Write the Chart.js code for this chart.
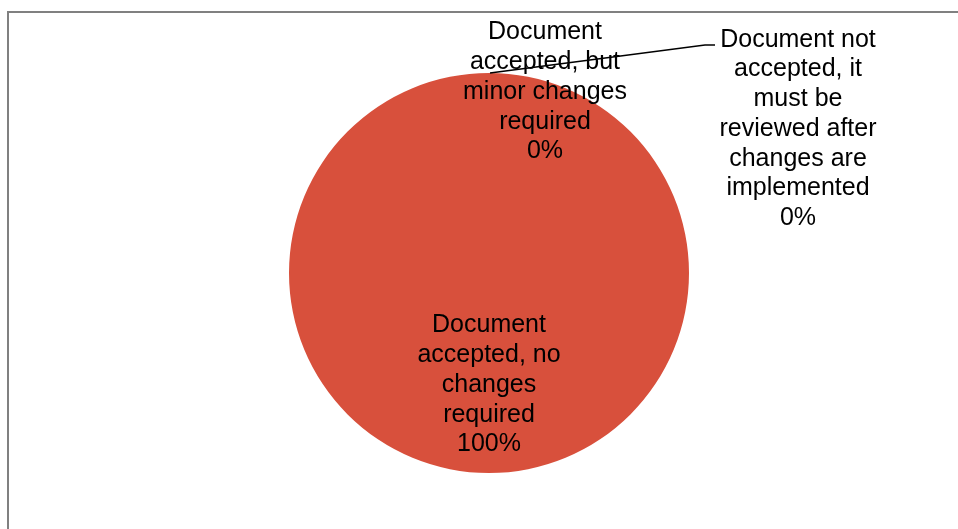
<!DOCTYPE html>
<html>
<head>
<meta charset="utf-8">
<script src="https://cdn.jsdelivr.net/npm/chart.js@4/dist/chart.umd.min.js"></script>
<style>
  html, body { margin: 0; padding: 0; background: #fff; }
  canvas { display: block; }
</style>
</head>
<body>
<canvas id="grafico" width="958" height="529"></canvas>
<script>
var categorie = [
  'Document accepted, no changes required',
  'Document accepted, but minor changes required',
  'Document not accepted, it must be reviewed after changes are implemented'
];
var valori = [100, 0, 0];
var percentuali = ['100%', '0%', '0%'];
var colori = ['#D8503C', '#4F81BD', '#9BBB59'];

// spezza il testo in righe
function aCapo(ctx, testo, larghezza) {
  var parole = testo.split(' ');
  var righe = [];
  var riga = '';
  for (var i = 0; i < parole.length; i++) {
    var prova = riga ? riga + ' ' + parole[i] : parole[i];
    if (riga && ctx.measureText(prova).width > larghezza) {
      righe.push(riga);
      riga = parole[i];
    } else {
      riga = prova;
    }
  }
  righe.push(riga);
  return righe;
}

var etichette = {
  id: 'etichette',
  beforeDraw: function (chart) {
    var ctx = chart.ctx;
    ctx.save();
    ctx.strokeStyle = '#808080';
    ctx.lineWidth = 2;
    ctx.strokeRect(8, 12, 1100, 700);
    ctx.restore();
  },
  afterDraw: function (chart) {
    var ctx = chart.ctx;
    var arco = chart.getDatasetMeta(0).data[0];
    var cx = arco.x, cy = arco.y, r = arco.outerRadius;

    // posizione (centro del blocco) e larghezza di ogni etichetta
    var pos = [
      { x: cx, y: cy + 0.56 * r, w: 152 },
      { x: cx + 0.28 * r, y: cy - 0.905 * r, w: 172 },
      { x: cx + 1.545 * r, y: cy - 0.72 * r, w: 165 }
    ];
    var interlinea = 29.7;

    ctx.save();
    // linea guida per l'ultima etichetta
    ctx.strokeStyle = '#000';
    ctx.lineWidth = 1.5;
    ctx.beginPath();
    ctx.moveTo(cx + 1, cy - r);
    ctx.lineTo(cx + 1.08 * r, cy - 1.14 * r);
    ctx.lineTo(cx + 1.13 * r, cy - 1.14 * r);
    ctx.stroke();

    ctx.font = '25px "Liberation Sans", Arial, sans-serif';
    ctx.fillStyle = '#000';
    ctx.textAlign = 'center';
    ctx.textBaseline = 'middle';
    for (var i = 0; i < categorie.length; i++) {
      var righe = aCapo(ctx, categorie[i], pos[i].w);
      righe.push(percentuali[i]);
      var y0 = pos[i].y - (righe.length - 1) * interlinea / 2;
      for (var j = 0; j < righe.length; j++) {
        ctx.fillText(righe[j], pos[i].x, y0 + j * interlinea);
      }
    }
    ctx.restore();
  }
};

var ctx = document.getElementById('grafico').getContext('2d');
var grafico = new Chart(ctx, {
  type: 'pie',
  data: {
    labels: categorie,
    datasets: [{
      data: valori,
      backgroundColor: colori,
      borderWidth: 0
    }]
  },
  options: {
    responsive: false,
    animation: false,
    layout: {
      padding: { left: 289, right: 269, top: 73, bottom: 56 }
    },
    plugins: {
      legend: { display: false },
      tooltip: { enabled: false }
    }
  },
  plugins: [etichette]
});
</script>
</body>
</html>
